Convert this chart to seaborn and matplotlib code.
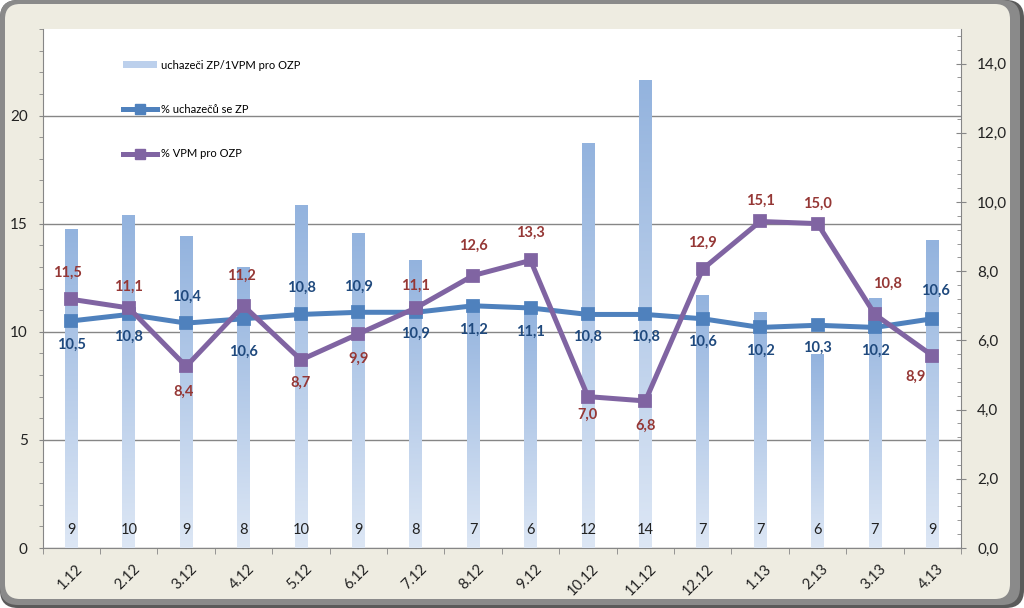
import numpy as np
import matplotlib
matplotlib.use('Agg')
import matplotlib.pyplot as plt
import seaborn as sns
from matplotlib.patches import FancyBboxPatch, Patch
from matplotlib.lines import Line2D
from matplotlib.colors import LinearSegmentedColormap
from matplotlib.ticker import MultipleLocator, FuncFormatter, NullFormatter
from matplotlib.transforms import IdentityTransform, ScaledTranslation, blended_transform_factory

# ---------------- data ----------------
months = ['1.12', '2.12', '3.12', '4.12', '5.12', '6.12', '7.12', '8.12',
          '9.12', '10.12', '11.12', '12.12', '1.13', '2.13', '3.13', '4.13']
ratio_values = [9.2, 9.6, 9.0, 8.1, 9.9, 9.1, 8.3, 7.1, 6.9, 11.7, 13.5, 7.3, 6.8, 5.6, 7.2, 8.9]
ratio_labels = ['9', '10', '9', '8', '10', '9', '8', '7', '6', '12', '14', '7', '7', '6', '7', '9']
pct_applicants = [10.5, 10.8, 10.4, 10.6, 10.8, 10.9, 10.9, 11.2, 11.1, 10.8, 10.8, 10.6, 10.2, 10.3, 10.2, 10.6]
pct_vacancies = [11.5, 11.1, 8.4, 11.2, 8.7, 9.9, 11.1, 12.6, 13.3, 7.0, 6.8, 12.9, 15.1, 15.0, 10.8, 8.9]
legend_labels = ['uchazeči ZP/1VPM pro OZP', '% uchazečů se ZP', '% VPM pro OZP']

# label placement (pixels, + = up)
app_dy = [-24, -22, 26, -33, 27, 25, -22, -24, -24, -22, -22, -23, -23, -23, -23, 28]
app_dx = [0, 0, 0, 0, 0, 0, 0, 0, 0, 0, 0, 0, 0, 0, 0, 3]
vac_dy = [27, 21, -25, 30, -23, -25, 22, 30, 28, -18, -25, 26, 21, 20, 31, -21]
vac_dx = [-4, 0, -3, -2, 0, 0, 0, 0, 0, 0, 0, 0, 0, 0, 13, -17]

# ---------------- style ----------------
plt.rcParams['font.family'] = ['Lato', 'DejaVu Sans']
BLUE = '#4F81BD'
PURPLE = '#8064A2'
BLUE_TXT = '#1F497D'
RED_TXT = '#953735'
GRID = '#868686'
TXT = '#222222'
PX = 0.72  # points per pixel at dpi 100

fig = plt.figure(figsize=(10.24, 6.08), dpi=100)
fig.patch.set_facecolor('white')

# frame
fig.add_artist(FancyBboxPatch((0, 0), 1024, 608, boxstyle='round,pad=0,rounding_size=18',
                              transform=IdentityTransform(), facecolor='#5a5a5a',
                              edgecolor='none', zorder=-20))
fig.add_artist(FancyBboxPatch((0, 3), 1020, 605, boxstyle='round,pad=0,rounding_size=18',
                              transform=IdentityTransform(), facecolor='#8a8a8a',
                              edgecolor='none', zorder=-19))
fig.add_artist(FancyBboxPatch((5, 9), 1005, 595, boxstyle='round,pad=0,rounding_size=15',
                              transform=IdentityTransform(), facecolor='#EEECE1',
                              edgecolor='none', zorder=-18))

ax = fig.add_axes([42.7 / 1024, 60 / 608, 918.3 / 1024, 519 / 608])
ax.set_facecolor('white')
axb = ax.twinx()
axl = ax.twinx()
ax.set_zorder(0)
axb.set_zorder(1)
axl.set_zorder(2)
axb.patch.set_visible(False)
axl.patch.set_visible(False)

# bars (right axis)
sns.barplot(x=months, y=ratio_values, ax=axb, width=0.22, color='#A7C0E2',
            saturation=1, edgecolor='none', errorbar=None)
cmap = LinearSegmentedColormap.from_list('barg', ['#DDE7F5', '#93B3DE'])
grad = np.linspace(0, 1, 256).reshape(-1, 1)
for p in list(axb.patches):
    x0, y0, w, h = p.get_x(), p.get_y(), p.get_width(), p.get_height()
    p.set_facecolor('none')
    axb.imshow(grad, extent=[x0, x0 + w, y0, y0 + h], origin='lower', aspect='auto',
               cmap=cmap, interpolation='bilinear', zorder=2)

# lines (left axis scale)
sns.pointplot(x=months, y=pct_applicants, ax=axl, color=BLUE, markers='s',
              markersize=6.5, linewidth=3.6, errorbar=None)
sns.pointplot(x=months, y=pct_vacancies, ax=axl, color=PURPLE, markers='s',
              markersize=6.5, linewidth=3.6, errorbar=None)

n = len(months)
for a in (ax, axb, axl):
    a.set_xlim(-0.5, n - 0.5)
    a.set_xlabel('')
    a.set_ylabel('')
ax.set_ylim(0, 24)
axl.set_ylim(0, 24)
axb.set_ylim(0, 15)

# data labels
for i, v in enumerate(pct_applicants):
    axl.annotate(f'{v:.1f}'.replace('.', ','), (i, v),
                 xytext=(app_dx[i] * PX, app_dy[i] * PX), textcoords='offset points',
                 ha='center', va='center', fontsize=10.5, fontweight='bold', color=BLUE_TXT)
for i, v in enumerate(pct_vacancies):
    axl.annotate(f'{v:.1f}'.replace('.', ','), (i, v),
                 xytext=(vac_dx[i] * PX, vac_dy[i] * PX), textcoords='offset points',
                 ha='center', va='center', fontsize=10.5, fontweight='bold', color=RED_TXT)
btr = blended_transform_factory(axb.transData, axb.transAxes)
for i, lab in enumerate(ratio_labels):
    axb.text(i, 18 / 519, lab, transform=btr, ha='center', va='center',
             fontsize=10.5, color=TXT, zorder=5)

# spines
for s in ax.spines.values():
    s.set_color(GRID)
ax.spines['top'].set_visible(False)
ax.spines['right'].set_visible(False)
for k, s in axb.spines.items():
    s.set_visible(k == 'right')
    s.set_color(GRID)
for s in axl.spines.values():
    s.set_visible(False)
axl.set_yticks([])
axl.tick_params(axis='y', which='both', length=0, labelright=False, labelleft=False)

# left axis
ax.yaxis.tick_left()
ax.yaxis.set_major_locator(MultipleLocator(5))
ax.yaxis.set_minor_locator(MultipleLocator(1))
ax.tick_params(axis='y', which='both', direction='out', length=4 * PX, color=GRID,
               labelsize=11, labelcolor=TXT, pad=11 * PX)
ax.yaxis.grid(True, which='major', color=GRID, linewidth=1)
ax.set_axisbelow(True)

# right axis
axb.yaxis.set_major_locator(MultipleLocator(2))
axb.yaxis.set_minor_locator(MultipleLocator(0.4))
axb.yaxis.set_major_formatter(FuncFormatter(lambda v, p: f'{v:.1f}'.replace('.', ',')))
axb.yaxis.set_minor_formatter(NullFormatter())
axb.tick_params(axis='y', which='major', direction='inout', length=10 * PX, color=GRID,
                labelsize=11, labelcolor=TXT, pad=11 * PX)
axb.tick_params(axis='y', which='minor', direction='in', length=4 * PX, color=GRID)

# x axis
ax.set_xticks(range(n))
ax.set_xticks(np.arange(-0.5, n, 1), minor=True)
ax.set_xticklabels(months, rotation=45, ha='right', va='top', rotation_mode='anchor')
ax.tick_params(axis='x', which='major', length=0, labelsize=10.5, labelcolor=TXT, pad=10)
ax.tick_params(axis='x', which='minor', direction='out', length=6 * PX, color=GRID)
shift = ScaledTranslation(4 / 100, 0, fig.dpi_scale_trans)
for lbl in ax.get_xticklabels():
    lbl.set_transform(lbl.get_transform() + shift)

# legend
handles = [Patch(facecolor='#BCD0EC', edgecolor='none'),
           Line2D([], [], color=BLUE, lw=3.6, marker='s', ms=6.5),
           Line2D([], [], color=PURPLE, lw=3.6, marker='s', ms=6.5)]
axl.legend(handles, legend_labels, loc='upper left', bbox_to_anchor=(0.0874, 0.941),
           frameon=False, fontsize=8, borderpad=0, borderaxespad=0,
           labelspacing=3.0, handlelength=3.1, handleheight=0.55, handletextpad=0.3)

fig.savefig('out.png', dpi=100)
